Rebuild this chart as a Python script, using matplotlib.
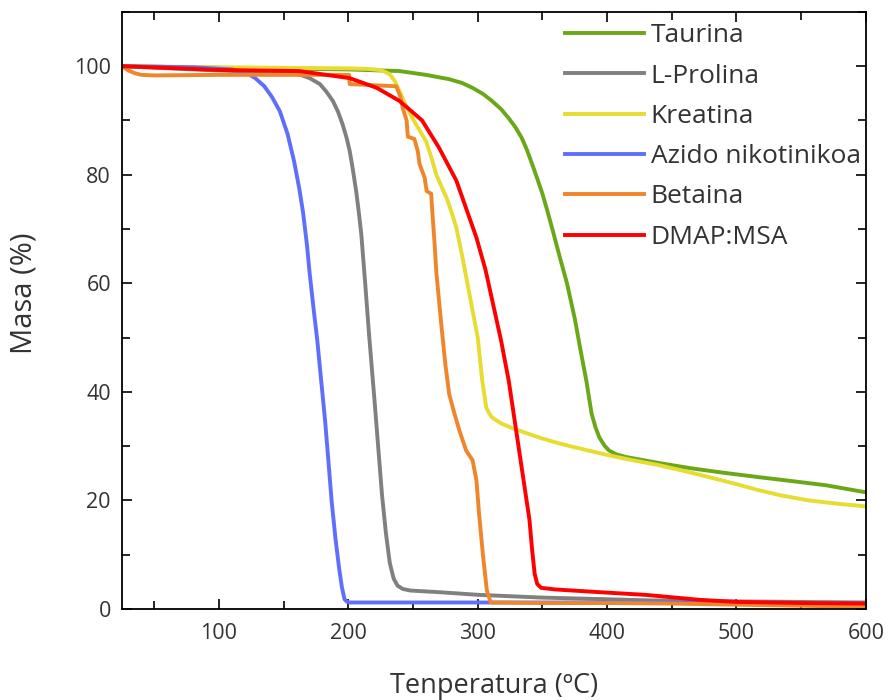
import matplotlib
matplotlib.use("Agg")
import matplotlib.pyplot as plt
from matplotlib.ticker import MultipleLocator

plt.rcParams['font.family'] = ['Open Sans', 'DejaVu Sans']

# Data (temperature °C, mass %)
taurina_T = [25, 100, 200, 239.5, 260, 278, 288, 296, 304, 311, 318, 324, 329, 334, 338, 342, 346, 350, 354, 358, 363, 369, 375, 380, 384, 388, 391, 394, 398, 401.5, 407, 414.6, 440, 465.6, 490, 517, 545, 569, 600]
taurina_M = [100, 99.7, 99.4, 99.1, 98.4, 97.6, 96.9, 96.0, 94.9, 93.6, 92.1, 90.4, 88.8, 86.8, 84.6, 82.0, 79.3, 76.5, 73.2, 69.7, 65.2, 60.0, 53.5, 47.0, 42.0, 36.0, 33.5, 31.6, 30.1, 29.2, 28.5, 28.0, 26.9, 25.9, 25.1, 24.3, 23.5, 22.8, 21.5]

prolina_T = [25, 100, 150, 162, 170, 178, 183, 188, 192, 195.5, 198.5, 201, 203.5, 206, 208, 210, 213, 216, 220, 223, 226, 229, 232, 235, 238, 242, 248, 270, 301, 350, 400, 430, 500, 550, 600]
prolina_M = [100, 99.2, 98.8, 98.5, 97.8, 96.7, 95.3, 93.6, 91.6, 89.3, 86.9, 84.4, 80.9, 77.0, 73.2, 69.0, 60.0, 50.5, 39.0, 30.0, 21.0, 14.0, 8.5, 5.6, 4.3, 3.7, 3.4, 3.1, 2.6, 2.1, 1.8, 1.6, 1.4, 1.3, 1.2]

kreatina_T = [25, 100, 200, 215, 224, 228, 232, 236, 239.5, 244, 249.5, 255, 260, 264, 268, 272, 276, 280, 283.5, 288, 292, 296, 300, 303.5, 306.6, 309, 311, 318, 327, 337.5, 350, 363, 380, 401.5, 420, 440, 460, 478.7, 500, 517, 535, 556, 578, 600]
kreatina_M = [100, 99.8, 99.6, 99.5, 99.3, 99.0, 98.5, 97.2, 95.4, 93.0, 90.4, 88.2, 86.2, 83.3, 80.0, 77.8, 75.7, 72.9, 70.2, 65.0, 60.0, 55.0, 50.0, 42.0, 37.1, 36.0, 35.3, 34.2, 33.3, 32.4, 31.4, 30.5, 29.5, 28.3, 27.4, 26.5, 25.4, 24.3, 23.0, 21.9, 20.9, 20.0, 19.4, 18.9]

azido_T = [25, 80, 110, 118, 123, 128, 135, 141, 147, 153, 158, 162, 165, 168, 170, 173, 176, 179, 182, 185, 187, 190, 193, 195, 197, 199, 201, 250, 300, 400, 500, 600]
azido_M = [100, 99.8, 99.4, 99.0, 98.5, 97.8, 96.3, 94.3, 91.7, 87.5, 82.5, 77.5, 73.0, 67.0, 62.0, 55.5, 49.4, 42.0, 34.7, 26.0, 20.0, 13.0, 7.2, 4.0, 1.8, 1.3, 1.2, 1.2, 1.2, 1.2, 1.1, 1.0]

betaina_T = [25, 30, 35, 40, 50, 100, 150, 200.5, 201, 237, 240, 242, 245, 246, 251, 253.6, 255, 259, 260.5, 264, 265, 266.5, 268, 270, 272, 275, 278, 282, 285.8, 291, 296, 299, 301, 304, 307, 310, 350, 400, 450, 500, 550, 600]
betaina_M = [100, 99.2, 98.7, 98.4, 98.3, 98.4, 98.4, 98.4, 96.7, 96.3, 94.5, 92.3, 90.0, 87.0, 86.6, 84.4, 82.0, 79.4, 77.0, 76.5, 72.8, 67.8, 62.0, 57.0, 52.0, 45.0, 39.5, 36.0, 32.9, 29.2, 27.4, 23.7, 17.6, 10.0, 3.5, 1.2, 1.1, 1.1, 1.0, 0.8, 0.6, 0.4]

dmap_T = [25, 100, 162, 201, 222, 239.5, 257, 270, 283.5, 299, 306, 312, 318, 324, 328, 332, 336, 340, 342, 344, 346, 349, 360, 394, 430, 471, 500, 550, 600]
dmap_M = [100, 99.3, 99.1, 97.8, 96.0, 93.6, 90.0, 85.0, 78.9, 68.4, 62.5, 56.0, 49.5, 42.0, 35.6, 29.2, 22.8, 16.4, 11.0, 6.5, 4.6, 3.9, 3.6, 3.1, 2.6, 1.7, 1.3, 1.1, 1.0]

series = [
    ("Taurina", taurina_T, taurina_M, "#6aa818"),
    ("L-Prolina", prolina_T, prolina_M, "#808080"),
    ("Kreatina", kreatina_T, kreatina_M, "#e6dc32"),
    ("Azido nikotinikoa", azido_T, azido_M, "#5f6ffc"),
    ("Betaina", betaina_T, betaina_M, "#f0862c"),
    ("DMAP:MSA", dmap_T, dmap_M, "#ff0000"),
]

fig = plt.figure(figsize=(8.88, 7.0), dpi=100)
ax = fig.add_axes([0.1374, 0.13, 0.8376, 0.853])

for name, T, M, c in series:
    ax.plot(T, M, color=c, lw=2.8, label=name, solid_joinstyle='round')

ax.set_xlim(25, 600)
ax.set_ylim(0, 110)
ax.xaxis.set_major_locator(MultipleLocator(100))
ax.xaxis.set_minor_locator(MultipleLocator(50))
ax.yaxis.set_major_locator(MultipleLocator(20))
ax.yaxis.set_minor_locator(MultipleLocator(10))
ax.tick_params(which='both', direction='in', top=True, right=True, width=1.2, colors='black',
               labelcolor='#333333', labelsize=15.5)
ax.tick_params(which='major', length=7)
ax.tick_params(which='minor', length=6)
ax.tick_params(axis='x', which='major', pad=10)
ax.tick_params(axis='y', which='major', pad=8)
for s in ax.spines.values():
    s.set_linewidth(1.3)

ax.set_xlabel("Tenperatura (ºC)", fontsize=19.5, color='#333333', labelpad=20)
ax.set_ylabel("Masa (%)", fontsize=21, color='#333333')
ax.yaxis.set_label_coords(-0.112, 0.529)

leg = ax.legend(loc='upper right', frameon=False, fontsize=19, handlelength=3.0,
                handletextpad=0.25, labelspacing=0.58, borderaxespad=0.0,
                borderpad=0.0, bbox_to_anchor=(0.993, 0.981))
for t in leg.get_texts():
    t.set_color('#333333')

fig.savefig("out.png", dpi=100)
